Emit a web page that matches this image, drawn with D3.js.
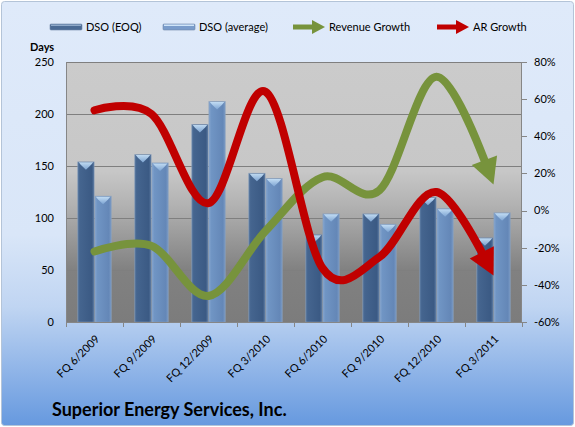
<!DOCTYPE html>
<html>
<head>
<meta charset="utf-8">
<script src="https://cdn.jsdelivr.net/npm/d3@7"></script>
<style>
  html, body { margin: 0; padding: 0; background: #fff; overflow: hidden; }
  svg { display: block; font-family: Lato, 'Open Sans', sans-serif; }
</style>
</head>
<body>
<svg id="dso-chart" width="575" height="427" viewBox="0 0 575 427"></svg>
<script>
const svg = d3.select('#dso-chart');
const width = +svg.attr('width');
const height = +svg.attr('height');

// data
const categories = ['FQ 6/2009', 'FQ 9/2009', 'FQ 12/2009', 'FQ 3/2010',
  'FQ 6/2010', 'FQ 9/2010', 'FQ 12/2010', 'FQ 3/2011'];
const dsoEoq = [154, 161, 190, 143, 84, 104, 120, 81];
const dsoAvg = [121, 153, 212, 138, 104, 94, 109, 105];
const revenueGrowth = [-22, -19, -46, -11, 18, 11, 72, 14];
const arGrowth = [54, 52, 4, 64, -31, -25, 10, -35];
const daysTicks = [0, 50, 100, 150, 200, 250];
const pctTicks = [-60, -40, -20, 0, 20, 40, 60, 80];

const green = '#77933c';
const red = '#c00000';

const margin = { top: 62, right: 53, bottom: 105, left: 66 };
const innerWidth = width - margin.left - margin.right;
const innerHeight = height - margin.top - margin.bottom;

const defs = svg.append('defs');
const grad = (id, stops, vertical) => {
  const g = defs.append('linearGradient').attr('id', id)
    .attr('x1', 0).attr('y1', 0)
    .attr('x2', vertical ? 0 : 1).attr('y2', vertical ? 1 : 0);
  stops.forEach(([o, c]) => g.append('stop').attr('offset', o).attr('stop-color', c));
};
grad('bg', [[0, '#dfeafa'], [0.55, '#d9e6f8'], [0.72, '#c0d5f2'], [1, '#6699df']], true);
grad('plotbg', [[0, '#cbcbcb'], [0.42, '#c7c7c7'], [0.55, '#b2b2b2'], [0.8, '#818181'], [1, '#7c7c7c']], true);
grad('eoq', [[0, '#5d7ca4'], [0.12, '#45658f'], [0.85, '#3b5a84'], [1, '#56759e']], false);
grad('avg', [[0, '#86a6cf'], [0.15, '#7095c4'], [0.85, '#6487b7'], [1, '#7c9cc6']], false);
grad('cap', [[0, '#c6e0f6'], [1, '#7fa6d4']], true);

// chart background
svg.append('rect')
  .attr('x', 1.5).attr('y', 1.5)
  .attr('width', width - 3).attr('height', height - 3)
  .attr('rx', 3)
  .attr('fill', 'url(#bg)')
  .attr('stroke', '#b4c4d8');

const g = svg.append('g')
  .attr('transform', `translate(${margin.left}, ${margin.top})`);

g.append('rect')
  .attr('width', innerWidth).attr('height', innerHeight)
  .attr('fill', 'url(#plotbg)');

const xScale = d3.scaleBand()
  .domain(categories)
  .range([0, innerWidth]);

const xSub = d3.scaleBand()
  .domain(['eoq', 'avg'])
  .range([xScale.bandwidth() * 0.205, xScale.bandwidth() * 0.795])
  .paddingInner(0.04);

const yDays = d3.scaleLinear().domain([0, 250]).range([innerHeight, 0]);
const yPct = d3.scaleLinear().domain([-60, 80]).range([innerHeight, 0]);

// gridlines
g.append('g').selectAll('line').data(daysTicks.slice(1))
  .enter().append('line')
  .attr('x1', 0).attr('x2', innerWidth)
  .attr('y1', d => Math.round(yDays(d)) + 0.5)
  .attr('y2', d => Math.round(yDays(d)) + 0.5)
  .attr('stroke', '#7f7f7f');

// bars
const series = [
  { key: 'eoq', values: dsoEoq },
  { key: 'avg', values: dsoAvg }
];
series.forEach(s => {
  const bars = g.append('g').selectAll('g').data(s.values)
    .enter().append('g')
    .attr('transform', (d, i) => `translate(${xScale(categories[i]) + xSub(s.key)}, 0)`);
  const bw = xSub.bandwidth();
  bars.append('rect')
    .attr('y', d => yDays(d))
    .attr('width', bw)
    .attr('height', d => innerHeight - yDays(d))
    .attr('fill', `url(#${s.key})`)
    .attr('stroke', '#8aa0bd')
    .attr('stroke-opacity', 0.6)
    .attr('stroke-width', 0.8);
  bars.append('path')
    .attr('d', d => {
      const t = yDays(d);
      return `M1,${t + 0.5} L${bw - 1},${t + 0.5} L${bw - 3},${t + 3} L${bw / 2},${t + 8} L3,${t + 3} Z`;
    })
    .attr('fill', 'url(#cap)')
    .attr('opacity', 0.95);
});

// axes
const axisColor = '#868686';
const xAxis = g.append('g')
  .attr('transform', `translate(0, ${innerHeight})`);
xAxis.append('line')
  .attr('x1', 0).attr('x2', innerWidth)
  .attr('y1', 0.5).attr('y2', 0.5)
  .attr('stroke', axisColor);
xAxis.selectAll('line.tick').data(d3.range(categories.length + 1))
  .enter().append('line').attr('class', 'tick')
  .attr('x1', i => Math.round(i * xScale.step()) + 0.5)
  .attr('x2', i => Math.round(i * xScale.step()) + 0.5)
  .attr('y1', 0).attr('y2', 5)
  .attr('stroke', axisColor);
xAxis.selectAll('text').data(categories)
  .enter().append('text')
  .attr('transform', d => `translate(${xScale(d) + xScale.bandwidth() / 2 + 3}, 15) rotate(-45)`)
  .attr('text-anchor', 'end')
  .attr('dy', '0.35em')
  .attr('font-size', '11px')
  .text(d => d);

const yAxisLeft = g.append('g');
yAxisLeft.append('line')
  .attr('x1', 0.5).attr('x2', 0.5)
  .attr('y1', 0).attr('y2', innerHeight)
  .attr('stroke', axisColor);
yAxisLeft.selectAll('text').data(daysTicks)
  .enter().append('text')
  .attr('x', -12)
  .attr('y', d => yDays(d))
  .attr('dy', '0.35em')
  .attr('text-anchor', 'end')
  .attr('font-size', '11px')
  .text(d => d);

const yAxisRight = g.append('g')
  .attr('transform', `translate(${innerWidth}, 0)`);
yAxisRight.append('line')
  .attr('x1', -0.5).attr('x2', -0.5)
  .attr('y1', 0).attr('y2', innerHeight)
  .attr('stroke', axisColor);
yAxisRight.selectAll('line.tick').data(pctTicks)
  .enter().append('line').attr('class', 'tick')
  .attr('x1', 0).attr('x2', 5)
  .attr('y1', d => Math.round(yPct(d)) + 0.5)
  .attr('y2', d => Math.round(yPct(d)) + 0.5)
  .attr('stroke', axisColor);
yAxisRight.selectAll('text').data(pctTicks)
  .enter().append('text')
  .attr('x', 12)
  .attr('y', d => yPct(d))
  .attr('dy', '0.35em')
  .attr('font-size', '11px')
  .text(d => d + '%');

svg.append('text')
  .attr('x', 30).attr('y', 47)
  .attr('dy', '0.35em')
  .attr('font-size', '11px')
  .attr('font-weight', 'bold')
  .text('Days');

// smoothed growth lines ending in arrowheads
const line = d3.line()
  .x((d, i) => xScale(categories[i]) + xScale.bandwidth() / 2)
  .y(d => yPct(d))
  .curve(d3.curveCardinal.tension(0));

const headLen = 26, headHalf = 13.5;
const drawArrow = (values, color) => {
  const path = g.append('path')
    .attr('d', line(values))
    .attr('fill', 'none')
    .attr('stroke', color)
    .attr('stroke-width', 8)
    .attr('stroke-linecap', 'round');
  const node = path.node();
  const L = node.getTotalLength();
  path.attr('stroke-dasharray', `${L - 14} ${L}`);
  const tip = node.getPointAtLength(L);
  const back = node.getPointAtLength(L - headLen);
  const ang = Math.atan2(tip.y - back.y, tip.x - back.x);
  const bx = tip.x - headLen * Math.cos(ang), by = tip.y - headLen * Math.sin(ang);
  const px = -Math.sin(ang) * headHalf, py = Math.cos(ang) * headHalf;
  g.append('path')
    .attr('d', `M${tip.x},${tip.y} L${bx + px},${by + py} L${bx - px},${by - py} Z`)
    .attr('fill', color);
};
drawArrow(revenueGrowth, green);
drawArrow(arGrowth, red);

// legend
const legend = svg.append('g').attr('transform', 'translate(0, 27)');
const legendItems = [
  { label: 'DSO (EOQ)', type: 'eoq', x: 50 },
  { label: 'DSO (average)', type: 'avg', x: 163 },
  { label: 'Revenue Growth', type: green, x: 292 },
  { label: 'AR Growth', type: red, x: 436 }
];
legendItems.forEach(it => {
  const li = legend.append('g').attr('transform', `translate(${it.x}, 0)`);
  if (it.type === 'eoq' || it.type === 'avg') {
    li.append('rect')
      .attr('x', 0).attr('y', -3).attr('width', 32).attr('height', 6).attr('rx', 1)
      .attr('fill', it.type === 'eoq' ? '#4a6a94' : '#7a9ccb')
      .attr('stroke', '#6f87a8').attr('stroke-width', 0.6);
    li.append('rect')
      .attr('x', 1).attr('y', -2.5).attr('width', 30).attr('height', 1.5)
      .attr('fill', it.type === 'eoq' ? '#8ea8c8' : '#cfe4f8');
  } else {
    li.append('line')
      .attr('x1', 1).attr('x2', 22).attr('y1', 0).attr('y2', 0)
      .attr('stroke', it.type).attr('stroke-width', 5);
    li.append('path')
      .attr('d', 'M33,0 L20,-7 L20,7 Z')
      .attr('fill', it.type);
  }
  li.append('text')
    .attr('x', it.type === 'eoq' || it.type === 'avg' ? 36 : 37)
    .attr('dy', '0.35em')
    .attr('font-size', '11px')
    .text(it.label);
});

svg.append('text')
  .attr('x', 52).attr('y', 416)
  .attr('font-size', '18px')
  .attr('font-weight', 'bold')
  .text('Superior Energy Services, Inc.');
</script>
</body>
</html>
